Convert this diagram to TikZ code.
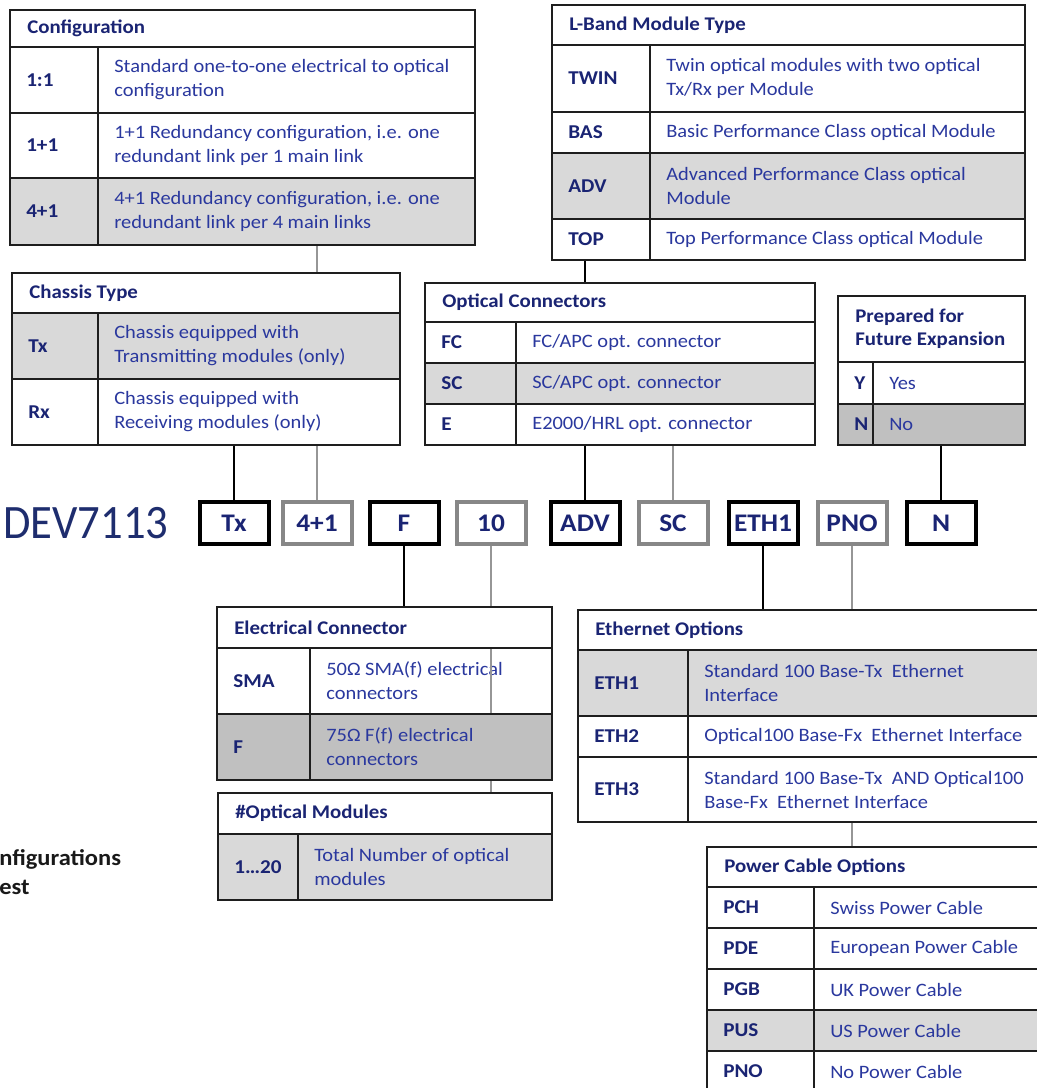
\documentclass[tikz,border=0pt]{standalone}
\usepackage{fontspec}
\setmainfont{Carlito}[FakeStretch=1.08]
\newfontfamily\devfont{Carlito}[FakeStretch=0.93]
\usetikzlibrary{fit,backgrounds,shadows}
\definecolor{codeblue}{RGB}{26,36,115}
\definecolor{descblue}{RGB}{42,56,158}
\definecolor{devblue}{RGB}{30,45,110}
\definecolor{rowgray}{RGB}{217,217,217}
\definecolor{rowdark}{RGB}{192,192,192}
\definecolor{rulegray}{RGB}{30,30,30}
\definecolor{boxgray}{RGB}{135,135,135}
\definecolor{linkgray}{RGB}{150,150,150}
\tikzset{
    tabrule/.style={draw=rulegray, line width=1.5pt},
    tabframe/.style={inner sep=0pt, draw=none},
    headtxt/.style={font=\bfseries\fontsize{14.5}{17.5}\selectfont, text=codeblue, inner sep=0pt, align=left},
    codetxt/.style={font=\bfseries\fontsize{14.7}{17}\selectfont, text=codeblue, inner sep=0pt},
    desctxt/.style={font=\fontsize{14.2}{18}\selectfont, text=descblue, inner sep=0pt, align=left},
    selbox/.style={draw=black, line width=3pt, fill=white, minimum width=51.75pt, minimum height=31.5pt,
        inner sep=0pt, font=\bfseries\fontsize{19}{22}\selectfont, text=codeblue,
        drop shadow={shadow xshift=0.8pt, shadow yshift=-1.6pt, opacity=0.25, fill=black}},
    optbox/.style={selbox, draw=boxgray},
    blklink/.style={draw=black, line width=2pt},
    graylink/.style={draw=linkgray, line width=2pt},
    devtxt/.style={font=\devfont\fontsize{36}{42}\selectfont, text=devblue, inner sep=0pt},
    notetxt/.style={font=\bfseries\fontsize{17}{21.75}\selectfont, text=black!90, inner sep=0pt, align=left}
}
\NewDocumentCommand{\opthead}{ m m m m m }{
    \filldraw[tabrule, fill=white] (#1,#3) rectangle (#2,#4);
    \node[headtxt, anchor=west] at ({#1+17},{(#3+#4)/2}) {#5};
}
\NewDocumentCommand{\optrow}{ m m m m m m m m }{
    \filldraw[tabrule, fill=#6] (#1,#4) rectangle (#3,#5);
    \draw[tabrule] (#2,#4) -- (#2,#5);
    \node[codetxt, anchor=west] at ({#1+16},{(#4+#5)/2}) {#7};
    \node[desctxt, anchor=west] at ({#2+16},{(#4+#5)/2}) {#8};
}
\begin{document}
\begin{tikzpicture}[x=0.75pt, y=-0.75pt]
    \useasboundingbox (0,0) rectangle (1037,1088);
    \clip (0,0) rectangle (1037,1088);

    \opthead{10}{475}{10}{47}{Configuration}
    \optrow{10}{98}{475}{47}{113}{white}{1:1}{Standard one-to-one electrical to optical\\configuration}
    \optrow{10}{98}{475}{113}{178}{white}{1+1}{1+1 Redundancy configuration, i.e. one\\redundant link per 1 main link}
    \optrow{10}{98}{475}{178}{245}{rowgray}{4+1}{4+1 Redundancy configuration, i.e. one\\redundant link per 4 main links}
    \node[tabframe, fit={(10,10) (475,245)}] (cfg) {};

    \opthead{552}{1025}{5}{45}{L-Band Module Type}
    \optrow{552}{650}{1025}{45}{112}{white}{TWIN}{Twin optical modules with two optical\\Tx/Rx per Module}
    \optrow{552}{650}{1025}{112}{153}{white}{BAS}{Basic Performance Class optical Module}
    \optrow{552}{650}{1025}{153}{219}{rowgray}{ADV}{Advanced Performance Class optical\\Module}
    \optrow{552}{650}{1025}{219}{260}{white}{TOP}{Top Performance Class optical Module}
    \node[tabframe, fit={(552,5) (1025,260)}] (lband) {};

    \opthead{12}{400}{273}{313}{Chassis Type}
    \optrow{12}{98}{400}{313}{379}{rowgray}{Tx}{Chassis equipped with\\Transmitting modules (only)}
    \optrow{12}{98}{400}{379}{445}{white}{Rx}{Chassis equipped with\\Receiving modules (only)}
    \node[tabframe, fit={(12,273) (400,445)}] (chassis) {};

    \opthead{425}{815}{283}{322}{Optical Connectors}
    \optrow{425}{516}{815}{322}{363}{white}{FC}{FC/APC opt. connector}
    \optrow{425}{516}{815}{363}{404}{rowgray}{SC}{SC/APC opt. connector}
    \optrow{425}{516}{815}{404}{445}{white}{E}{E2000/HRL opt. connector}
    \node[tabframe, fit={(425,283) (815,445)}] (optcon) {};

    \opthead{838}{1025}{296}{362}{Prepared for\\Future Expansion}
    \optrow{838}{873}{1025}{362}{404}{white}{Y}{Yes}
    \optrow{838}{873}{1025}{404}{445}{rowdark}{N}{No}
    \node[tabframe, fit={(838,296) (1025,445)}] (future) {};

    \opthead{217}{552}{607}{648}{Electrical Connector}
    \optrow{217}{310}{552}{648}{714}{white}{SMA}{50Ω SMA(f) electrical\\connectors}
    \optrow{217}{310}{552}{714}{780}{rowdark}{F}{75Ω F(f) electrical\\connectors}
    \node[tabframe, fit={(217,607) (552,780)}] (elec) {};

    \opthead{218}{552}{793}{834}{\#Optical Modules}
    \optrow{218}{298}{552}{834}{900}{rowgray}{1…20}{Total Number of optical\\modules}
    \node[tabframe, fit={(218,793) (552,900)}] (nummod) {};

    \opthead{578}{1045}{610}{650}{Ethernet Options}
    \optrow{578}{688}{1045}{650}{716}{rowgray}{ETH1}{Standard 100 Base-Tx\ \ Ethernet\\Interface}
    \optrow{578}{688}{1045}{716}{757}{white}{ETH2}{Optical100 Base-Fx\ \ Ethernet Interface}
    \optrow{578}{688}{1045}{757}{822}{white}{ETH3}{Standard 100 Base-Tx\ \ AND Optical100\\Base-Fx\ \ Ethernet Interface}
    \node[tabframe, fit={(578,610) (1045,822)}] (ether) {};

    \opthead{707}{1045}{847}{887}{Power Cable Options}
    \optrow{707}{814}{1045}{887}{928}{white}{PCH}{Swiss Power Cable}
    \optrow{707}{814}{1045}{928}{969}{white}{PDE}{European Power Cable}
    \optrow{707}{814}{1045}{969}{1010}{white}{PGB}{UK Power Cable}
    \optrow{707}{814}{1045}{1010}{1051}{rowgray}{PUS}{US Power Cable}
    \optrow{707}{814}{1045}{1051}{1092}{white}{PNO}{No Power Cable}
    \node[tabframe, fit={(707,847) (1045,1092)}] (power) {};

    \node[devtxt, anchor=west] (dev) at (3,523) {DEV7113};
    \node[selbox] (bTx) at (234,523) {Tx};
    \node[optbox] (bCfg) at (317,523) {4+1};
    \node[selbox] (bF) at (404,523) {F};
    \node[optbox] (bNum) at (491,523) {10};
    \node[selbox] (bADV) at (585,523) {ADV};
    \node[optbox] (bSC) at (673,523) {SC};
    \node[selbox] (bETH) at (763,523) {ETH1};
    \node[optbox] (bPNO) at (852,523) {PNO};
    \node[selbox] (bN) at (941,523) {N};

    \node[notetxt, anchor=west] (note) at (-1,872) {nfigurations\\est};

    \begin{scope}[on background layer]
        \draw[blklink] (bTx.north) -- (bTx.north |- chassis.south);
        \draw[graylink] (bCfg.north) -- (bCfg.north |- cfg.south);
        \draw[blklink] (bADV.north) -- (bADV.north |- lband.south);
        \draw[graylink] (bSC.north) -- (bSC.north |- optcon.south);
        \draw[blklink] (bN.north) -- (bN.north |- future.south);
        \draw[blklink] (bF.south) -- (bF.south |- elec.north);
        \draw[graylink] (bNum.south) -- (bNum.south |- nummod.north);
        \draw[blklink] (bETH.south) -- (bETH.south |- ether.north);
        \draw[graylink] (bPNO.south) -- (bPNO.south |- power.north);
    \end{scope}
    \draw[graylink] (bNum.south |- 0,649) -- (bNum.south |- 0,713);
\end{tikzpicture}
\end{document}
